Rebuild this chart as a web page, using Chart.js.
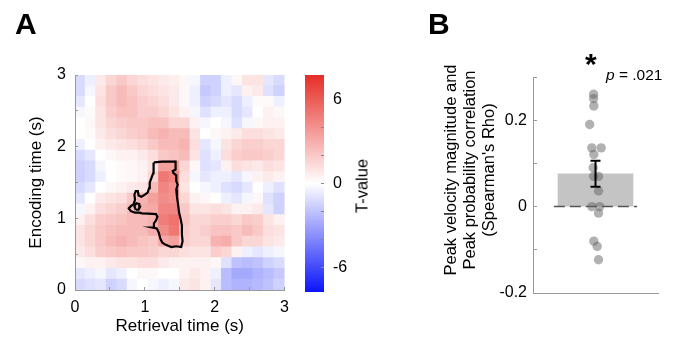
<!DOCTYPE html>
<html>
<head>
<meta charset="utf-8">
<script src="https://cdn.jsdelivr.net/npm/chart.js@4.4.0/dist/chart.umd.min.js"></script>
<style>
body { margin:0; background:#fff; width:677px; height:347px; overflow:hidden; position:relative; font-family:"Liberation Sans", Arial, sans-serif; color:#000; }
canvas { position:absolute; top:0; }
.txt { position:absolute; white-space:nowrap; }
.rot { transform:translate(-50%,-50%) rotate(-90deg); text-align:center; }
</style>
</head>
<body>
<canvas id="heat" width="300" height="340" style="left:0"></canvas>
<canvas id="cbar" width="100" height="340" style="left:290px"></canvas>
<canvas id="rho" width="257" height="340" style="left:420px"></canvas>

<div class="txt" style="left:15px;top:9px;font:bold 30px 'Liberation Sans',Arial;line-height:30px">A</div>
<div class="txt" style="left:428px;top:9px;font:bold 30px 'Liberation Sans',Arial;line-height:30px">B</div>
<div class="txt rot" style="left:362px;top:186px;font-size:16.5px">T-value</div>
<div class="txt rot" style="left:469px;top:170px;font-size:16.5px;line-height:19px">Peak velocity magnitude and<br>Peak probability correlation<br>(Spearman's Rho)</div>
<div class="txt" style="left:585px;top:49px;font:bold 30px 'Liberation Sans',Arial;line-height:30px">*</div>
<div class="txt" style="left:606px;top:67px;font-size:15.5px;line-height:16px"><i>p</i> = .021</div>

<script>
// ---- panel A: time x time T-value map (rows top -> bottom, 0.15 s cells) ----
const cellSize = 0.15;
const tLimit = 7.75;
const tRows = [
  [-1.2,-0.5,0.8,1.5,2.0,1.5,1.2,1.0,0.8,0.6,0.3,-0.3,-1.5,-1.5,-0.5,0.3,1.0,1.0,-0.8,-1.2],
  [-1.2,-0.3,1.0,2.0,2.5,2.0,1.5,1.2,1.0,0.8,0.3,-0.5,-1.8,-1.5,-0.5,-0.8,0.5,0.8,-1.0,-1.5],
  [-0.8,0.0,1.2,2.0,2.5,2.2,1.8,1.5,1.2,0.8,0.3,-0.5,-1.5,-1.2,-0.8,-1.2,-0.5,0.2,0.2,-0.5],
  [-0.3,0.2,1.0,1.8,2.2,2.2,1.8,1.8,1.5,1.0,0.5,-0.3,-1.0,-0.5,-0.5,-1.2,-0.8,0.0,0.5,0.3],
  [0.0,0.3,1.0,1.5,1.8,2.0,2.0,2.2,2.2,1.5,1.5,0.5,-0.3,0.0,-0.3,-1.0,-0.3,0.3,0.5,0.5],
  [0.0,0.2,0.8,1.2,1.5,1.8,2.0,2.5,2.8,2.5,2.5,1.0,0.0,0.3,0.5,0.8,1.2,1.2,1.0,0.8],
  [-0.5,0.0,0.5,0.8,1.0,1.2,1.5,2.0,2.5,2.5,2.8,1.2,-0.8,-0.3,1.0,1.5,1.8,1.8,1.5,1.5],
  [-1.2,-0.8,0.0,0.3,0.5,0.5,0.8,1.2,2.0,2.2,2.5,1.0,-1.0,-0.5,1.2,1.8,2.0,2.0,1.8,1.5],
  [-1.5,-1.2,-0.3,0.0,0.2,0.3,0.5,1.0,3.5,3.5,1.5,0.3,-1.0,-0.8,0.5,1.2,1.0,0.8,1.2,1.0],
  [-1.5,-1.2,-0.5,0.0,0.2,0.3,0.5,1.5,5.0,4.5,1.2,-0.3,-0.8,-0.5,-0.5,-0.8,-0.3,0.5,0.8,0.5],
  [-1.2,-0.8,0.0,0.3,0.5,0.8,1.0,2.5,4.5,4.0,1.0,0.0,-0.3,-0.5,-1.0,-1.2,-0.8,0.0,-0.5,-1.0],
  [-0.8,0.0,0.8,1.0,1.2,2.0,2.8,3.5,4.2,4.0,1.5,0.5,0.3,0.0,-0.5,-0.8,-0.3,0.3,-1.0,-1.5],
  [-0.3,0.5,1.2,1.5,1.8,2.5,3.0,3.2,4.5,4.5,2.0,1.0,1.0,1.2,1.0,0.5,0.5,0.8,-0.8,-1.5],
  [0.5,1.2,1.8,2.0,2.2,2.5,2.5,2.8,4.8,5.2,2.2,1.5,1.5,1.8,1.8,1.5,2.0,1.8,1.0,0.5],
  [1.0,1.5,2.0,2.3,2.5,2.5,2.5,3.0,4.2,5.0,2.0,1.5,1.8,2.2,2.2,2.0,2.5,2.0,1.2,1.0],
  [1.0,1.5,2.0,2.5,2.8,2.5,2.2,2.0,3.2,3.5,1.8,1.5,1.5,2.8,3.0,2.0,1.5,1.5,1.0,0.8],
  [0.8,1.2,1.8,2.0,2.2,2.0,2.0,1.8,1.5,1.5,1.2,1.0,1.0,1.8,1.5,0.5,-0.5,-0.8,-0.5,-0.3],
  [0.3,0.5,0.5,0.8,1.0,1.0,1.2,1.2,0.8,0.5,0.5,0.5,0.5,0.3,-1.0,-2.0,-2.2,-2.0,-1.5,-1.2],
  [-0.8,-0.5,-0.3,-0.8,-0.5,0.0,0.3,0.3,0.0,0.0,0.5,0.8,0.5,-0.5,-2.2,-2.8,-2.8,-2.5,-2.2,-1.8],
  [-1.2,-1.0,-0.8,-1.5,-1.2,-0.3,0.0,-0.3,-0.5,-0.3,0.8,1.0,0.5,-0.8,-2.2,-2.5,-2.5,-2.3,-2.0,-1.5]
];

// significant cluster outline (retrieval s, encoding s)
const clusterX = [1.13,1.25,1.44,1.44,1.40,1.41,1.45,1.45,1.47,1.45,1.46,1.48,1.49,1.51,1.53,1.53,1.54,1.52,1.45,1.38,1.30,1.25,1.22,1.20,1.17,1.12,1.13,1.16,1.18,1.16,1.05,0.96,0.92,0.86,0.80,0.77,0.80,0.84,0.86,0.85,0.87,0.90,0.91,0.95,1.00,1.04,1.06,1.07,1.10,1.12,1.12,1.13];
const clusterY = [1.78,1.79,1.79,1.68,1.66,1.63,1.60,1.52,1.47,1.40,1.30,1.16,1.08,1.00,0.90,0.78,0.68,0.60,0.61,0.60,0.63,0.66,0.72,0.80,0.86,0.87,0.93,0.97,1.02,1.06,1.065,1.07,1.08,1.08,1.10,1.14,1.17,1.20,1.26,1.33,1.38,1.38,1.32,1.30,1.33,1.36,1.42,1.50,1.58,1.63,1.70,1.78];
const holeX = [0.87,0.91,0.93,0.92,0.88,0.85,0.87];
const holeY = [1.12,1.12,1.16,1.20,1.21,1.17,1.12];

// ---- panel B: per-subject Spearman rho ----
const rhoValues = [0.26,0.25,0.233,0.19,0.136,0.136,0.121,0.09,0.07,0.07,0.036,0.0,0.0,-0.015,-0.08,-0.092,-0.123];
const rhoJitter = [-0.045,-0.045,-0.04,-0.14,-0.088,0.136,-0.04,-0.056,-0.045,0.072,0.072,-0.088,0.1,0.072,-0.04,0.04,0.072];
const meanRho = 0.076;
const semRho = 0.03;

Chart.defaults.font.family = '"Liberation Sans", Arial, sans-serif';
Chart.defaults.color = '#000';

function tColor(v) {
  let f = Math.max(-1, Math.min(1, v / tLimit));
  let r, g, b;
  if (f >= 0) { r = 255 - 25 * f; g = 255 - 210 * f; b = 255 - 217 * f; }
  else { f = -f; r = 255 - 245 * f; g = 255 - 235 * f; b = 255 - 5 * f; }
  return `rgb(${Math.round(r)},${Math.round(g)},${Math.round(b)})`;
}

const cells = [];
tRows.forEach((row, r) => row.forEach((v, c) => {
  cells.push({ x: (c + 0.5) * cellSize, y: 3 - (r + 0.5) * cellSize, v: v });
}));
const cluster = clusterX.map((x, i) => ({ x: x, y: clusterY[i] }));
const hole = holeX.map((x, i) => ({ x: x, y: holeY[i] }));

function cellRadius(ctx) {
  const sx = ctx.chart.scales.x, sy = ctx.chart.scales.y;
  if (!sx || !sy) return 5;
  const w = Math.abs(sx.getPixelForValue(cellSize) - sx.getPixelForValue(0));
  const h = Math.abs(sy.getPixelForValue(cellSize) - sy.getPixelForValue(0));
  return (Math.max(w, h) + 1) / Math.SQRT2;
}

const tickFont = { size: 16 };
const titleFont = { size: 17 };

new Chart(document.getElementById('heat'), {
  type: 'scatter',
  data: {
    datasets: [
      { data: cluster, showLine: true, borderColor: '#000', borderWidth: 2.2, pointRadius: 0, tension: 0, order: 0 },
      { data: hole, showLine: true, borderColor: '#000', borderWidth: 2.2, pointRadius: 0, tension: 0, order: 0 },
      { data: cells, pointStyle: 'rect', pointRadius: cellRadius, pointBorderWidth: 0,
        pointBackgroundColor: c => tColor(c.raw ? c.raw.v : 0), order: 2 }
    ]
  },
  options: {
    responsive: false, animation: false, events: [],
    layout: { padding: { left: 0, right: 7, top: 75, bottom: 0 } },
    plugins: { legend: { display: false }, tooltip: { enabled: false } },
    scales: {
      x: {
        type: 'linear', min: 0, max: 3,
        ticks: { stepSize: 0.5, font: tickFont, padding: 11, maxRotation: 0,
          callback: v => Number.isInteger(v) ? String(v) : '' },
        grid: { drawOnChartArea: false, tickLength: -3, color: '#999', z: 1 },
        border: { color: '#999', z: 1 },
        title: { display: true, text: 'Retrieval time (s)', font: titleFont, padding: { top: 0, bottom: 3 } },
        afterFit: s => { s.height = 50; }
      },
      y: {
        type: 'linear', min: 0, max: 3,
        ticks: { stepSize: 0.5, font: tickFont, padding: 12,
          callback: v => Number.isInteger(v) ? String(v) : '' },
        grid: { drawOnChartArea: false, tickLength: -3, color: '#999', z: 1 },
        border: { color: '#999', z: 1 },
        title: { display: true, text: 'Encoding time (s)', font: titleFont, padding: { top: 26, bottom: 0 } },
        afterFit: s => { s.width = 75; }
      }
    }
  }
});

// colour bar
function barGradient(ctx) {
  const chart = ctx.chart;
  const sy = chart.scales.y;
  if (!chart.chartArea || !sy) return '#fff';
  const g = chart.ctx.createLinearGradient(0, sy.getPixelForValue(-tLimit), 0, sy.getPixelForValue(tLimit));
  for (let i = 0; i <= 20; i++) g.addColorStop(i / 20, tColor(-tLimit + 2 * tLimit * i / 20));
  return g;
}

new Chart(document.getElementById('cbar'), {
  type: 'bar',
  data: { labels: ['T'], datasets: [{ data: [[-tLimit, tLimit]], backgroundColor: barGradient,
    borderWidth: 0, barPercentage: 1, categoryPercentage: 1 }] },
  options: {
    responsive: false, animation: false, events: [],
    layout: { padding: { left: 15, right: 0, top: 75, bottom: 48 } },
    plugins: { legend: { display: false }, tooltip: { enabled: false } },
    scales: {
      x: { display: false },
      y: {
        position: 'right', min: -tLimit, max: tLimit,
        ticks: { stepSize: 2, includeBounds: false, font: tickFont, padding: 12,
          callback: v => (v % 6 === 0) ? String(v) : '' },
        grid: { drawOnChartArea: false, tickLength: -3, color: '#888', z: 1 },
        border: { display: false },
        afterFit: s => { s.width = 66; }
      }
    }
  }
});

// ---- panel B ----
const errorBar = {
  id: 'errorBar',
  afterDatasetsDraw(chart) {
    const { ctx, scales: { x, y } } = chart;
    const px = x.getPixelForValue(1);
    const top = y.getPixelForValue(meanRho + semRho);
    const bot = y.getPixelForValue(meanRho - semRho);
    ctx.save();
    ctx.strokeStyle = '#000';
    ctx.lineWidth = 2;
    ctx.beginPath();
    ctx.moveTo(px, top); ctx.lineTo(px, bot);
    ctx.moveTo(px - 5, top); ctx.lineTo(px + 5, top);
    ctx.moveTo(px - 5, bot); ctx.lineTo(px + 5, bot);
    ctx.stroke();
    ctx.restore();
  }
};

const subjects = rhoValues.map((v, i) => ({ x: 1 + rhoJitter[i], y: v }));

new Chart(document.getElementById('rho'), {
  type: 'scatter',
  data: {
    datasets: [
      { data: subjects, pointRadius: 4.7, pointBackgroundColor: 'rgba(100,100,100,0.5)', pointBorderWidth: 0, order: 0 },
      { type: 'line', data: [{ x: 0, y: 0 }, { x: 2, y: 0 }], borderColor: '#555', borderWidth: 1.5,
        borderDash: [11, 5], pointRadius: 0, order: 1 },
      { type: 'bar', data: [{ x: 1, y: meanRho }], backgroundColor: '#c4c4c4', barThickness: 75, order: 2 }
    ]
  },
  options: {
    responsive: false, animation: false, events: [],
    layout: { padding: { left: 0, right: 19, top: 77, bottom: 47 } },
    plugins: { legend: { display: false }, tooltip: { enabled: false } },
    scales: {
      x: {
        type: 'linear', min: 0, max: 2,
        ticks: { display: false }, grid: { display: false },
        border: { color: '#999' },
        afterFit: s => { s.height = 0; }
      },
      y: {
        min: -0.2, max: 0.3,
        ticks: { stepSize: 0.1, font: tickFont, padding: 10,
          callback: v => { const k = Math.round(v * 10); return k === 2 ? '0.2' : k === 0 ? '0' : k === -2 ? '-0.2' : ''; } },
        grid: { drawOnChartArea: false, tickLength: -4, color: '#999', z: 1 },
        border: { color: '#999', z: 1 },
        afterFit: s => { s.width = 113; }
      }
    }
  },
  plugins: [errorBar]
});
</script>
</body>
</html>
